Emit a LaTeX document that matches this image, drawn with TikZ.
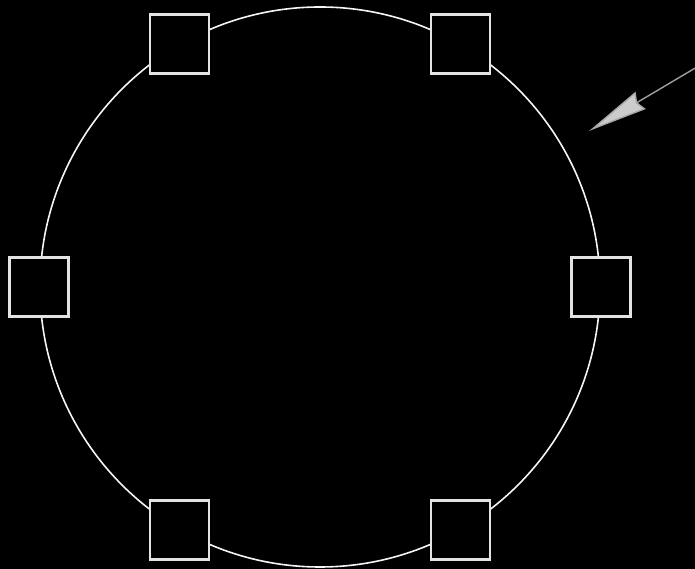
\documentclass[tikz,border=0pt]{standalone}
\usepackage{tikz}
\usetikzlibrary{arrows.meta}

\begin{document}
\begin{tikzpicture}[
        x=1pt, y=1pt,
        ring/.style={circle, draw=white!92!gray, line width=1.6pt,
                     minimum size=560pt, inner sep=0pt},
        port/.style={rectangle, draw=white!78!gray, line width=2.6pt,
                     fill=black, minimum size=59pt, inner sep=0pt},
        pointer/.style={draw=gray!75, line width=1.4pt,
                        -{Stealth[length=60pt, width=20pt, inset=4pt,
                                  fill=gray!40, color=gray!70]}}
    ]

    %% background and frame
    \fill[black] (0,0) rectangle (695,569);
    \useasboundingbox (0,0) rectangle (695,569);

    %% ring with six ports
    \node[ring] (ring) at (320,282) {};
    \foreach \a in {0,60,...,300}
        \node[port] (p\a) at (ring.\a) {};

    %% pointer
    \coordinate (tail) at (697,502);
    \coordinate (tip)  at (589,438);
    \draw[pointer] (tail) -- (tip);

\end{tikzpicture}
\end{document}
